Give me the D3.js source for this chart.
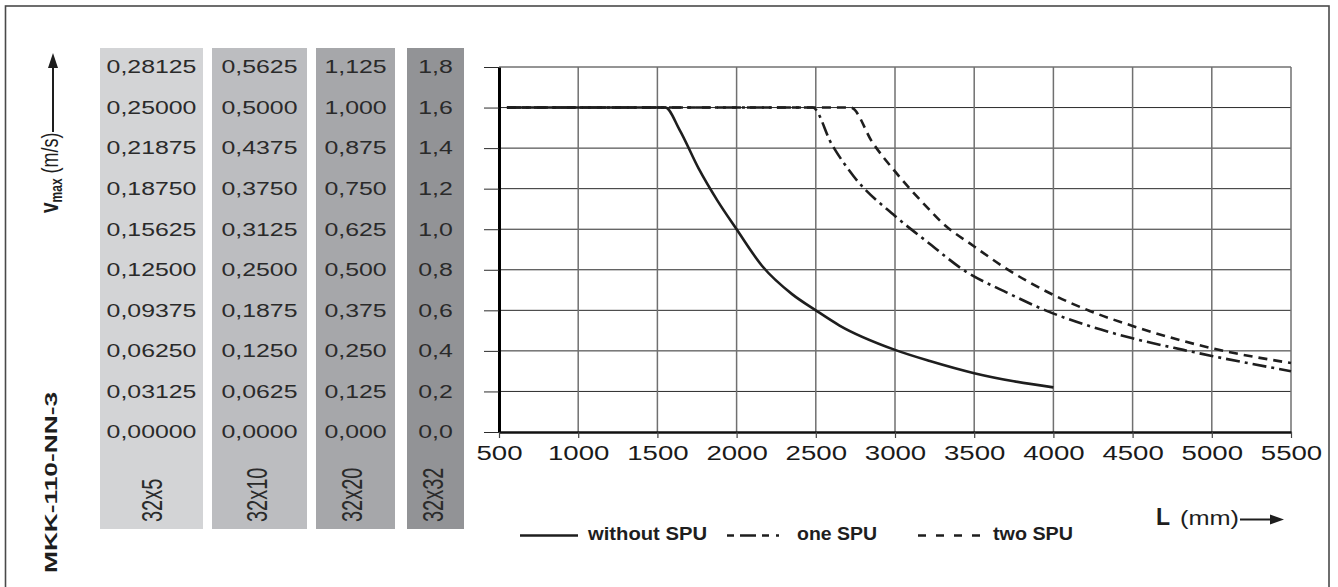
<!DOCTYPE html>
<html><head><meta charset="utf-8">
<script src="https://cdn.jsdelivr.net/npm/d3@7"></script>
<style>html,body{margin:0;padding:0;background:#fff;} svg{display:block;font-family:"Liberation Sans",Arial,Helvetica,sans-serif;}</style>
</head><body><svg id="c" width="1338" height="587"></svg>
<script>
// ---- data ----
const lengthTicks = [500, 1000, 1500, 2000, 2500, 3000, 3500, 4000, 4500, 5000, 5500];
const speedTicks = [0, 0.2, 0.4, 0.6, 0.8, 1.0, 1.2, 1.4, 1.6, 1.8];
const spindleLabels = ["32x5", "32x10", "32x20", "32x32"];
const speedLabels32x5  = ["0,00000","0,03125","0,06250","0,09375","0,12500","0,15625","0,18750","0,21875","0,25000","0,28125"];
const speedLabels32x10 = ["0,0000","0,0625","0,1250","0,1875","0,2500","0,3125","0,3750","0,4375","0,5000","0,5625"];
const speedLabels32x20 = ["0,000","0,125","0,250","0,375","0,500","0,625","0,750","0,875","1,000","1,125"];
const speedLabels32x32 = ["0,0","0,2","0,4","0,6","0,8","1,0","1,2","1,4","1,6","1,8"];
const seriesNames = ["without SPU", "one SPU", "two SPU"];
const withoutSpuL = [550, 1550, 1640, 1760, 1880, 2000, 2160, 2350, 2500, 2650, 3000, 3220, 3500, 3750, 4000];
const withoutSpuV = [1.6, 1.6, 1.49, 1.30, 1.14, 1.0, 0.82, 0.68, 0.60, 0.525, 0.405, 0.35, 0.29, 0.25, 0.22];
const oneSpuL = [550, 2480, 2600, 2740, 3000, 3200, 3450, 3700, 3950, 4300, 4500, 4820, 5000, 5500];
const oneSpuV = [1.6, 1.6, 1.42, 1.26, 1.065, 0.94, 0.79, 0.69, 0.60, 0.505, 0.462, 0.405, 0.375, 0.30];
const twoSpuL = [550, 2720, 2860, 3000, 3200, 3300, 3500, 3700, 4000, 4230, 4500, 5000, 5500];
const twoSpuV = [1.6, 1.6, 1.425, 1.285, 1.11, 1.03, 0.915, 0.807, 0.676, 0.597, 0.523, 0.413, 0.34];

// ---- drawing ----
const svg = d3.select("#c");
const x = d3.scaleLinear().domain([500, 5500]).range([499, 1291]);
const y = d3.scaleLinear().domain([0, 1.8]).range([432, 67]);
const ink = "#1e1e1e";
const SX = 1.38;

// frame
svg.append("rect").attr("x", 5.5).attr("y", 6).attr("width", 1323.5).attr("height", 640)
  .attr("fill", "none").attr("stroke", "#4a4a4a").attr("stroke-width", 1.6);

// gray columns with speed labels
const colBoxes = [
  {x0: 100, x1: 203, fill: "#d3d4d6", rot: 162},
  {x0: 212, x1: 307, fill: "#bcbdc0", rot: 267},
  {x0: 316, x1: 395, fill: "#a6a7aa", rot: 362},
  {x0: 407, x1: 464, fill: "#929396", rot: 443}
];
const colLabels = [speedLabels32x5, speedLabels32x10, speedLabels32x20, speedLabels32x32];
colBoxes.forEach((b, ci) => {
  svg.append("rect").attr("x", b.x0).attr("y", 48).attr("width", b.x1 - b.x0).attr("height", 481).attr("fill", b.fill);
  const cx = (b.x0 + b.x1) / 2;
  svg.append("g").selectAll("text").data(colLabels[ci]).join("text")
    .attr("transform", (d, i) => `translate(${cx},${y(speedTicks[i]) + 6.3}) scale(${SX},1)`)
    .attr("text-anchor", "middle").attr("font-size", 18).attr("fill", "#2a2a2a")
    .text(d => d);
  svg.append("text")
    .attr("transform", `translate(${b.rot},522) scale(1.45,1) rotate(-90)`)
    .attr("font-size", 20).attr("fill", "#2a2a2a").text(spindleLabels[ci]);
});

// grid
svg.append("g").selectAll("line").data(speedTicks.filter(d => d > 0)).join("line")
  .attr("x1", 499).attr("x2", 1291).attr("y1", d => y(d)).attr("y2", d => y(d))
  .attr("stroke", "#2b2b2b").attr("stroke-width", 1);
svg.append("g").selectAll("line").data(lengthTicks.filter(d => d > 500)).join("line")
  .attr("x1", d => x(d)).attr("x2", d => x(d)).attr("y1", 67).attr("y2", 432)
  .attr("stroke", "#707070").attr("stroke-width", 1.5);

// axes
const yAxis = svg.append("g").attr("transform", "translate(499,0)")
  .call(d3.axisLeft(y).tickValues(speedTicks).tickSize(15).tickSizeOuter(0).tickFormat(""));
yAxis.select(".domain").attr("stroke", "#000").attr("stroke-width", 3);
yAxis.selectAll(".tick line").attr("stroke", "#2b2b2b").attr("stroke-width", 1);

const xAxis = svg.append("g").attr("transform", "translate(0,432)")
  .call(d3.axisBottom(x).tickValues(lengthTicks).tickSize(6).tickSizeOuter(0).tickFormat(d3.format("d")));
xAxis.select(".domain").attr("stroke", "#111").attr("stroke-width", 2.5);
xAxis.selectAll(".tick line").attr("stroke", "#444").attr("stroke-width", 1.2);
xAxis.selectAll(".tick text").attr("y", 28).attr("dy", 0).attr("font-size", 20)
  .attr("font-family", "Liberation Sans, Arial, sans-serif").attr("fill", "#1a1a1a")
  .attr("transform", `scale(${SX},1)`);

// curves
const line = d3.line().x(d => x(d[0])).y(d => y(d[1])).curve(d3.curveMonotoneX);
const zip = (a, b) => a.map((v, i) => [v, b[i]]);
const series = [
  {L: twoSpuL, V: twoSpuV, dash: "9,6"},
  {L: oneSpuL, V: oneSpuV, dash: "14,5,3,5"},
  {L: withoutSpuL, V: withoutSpuV, dash: null}
];
series.forEach(s => {
  svg.append("path").datum(zip(s.L, s.V)).attr("d", line)
    .attr("fill", "none").attr("stroke", ink).attr("stroke-width", 2.6)
    .attr("stroke-dasharray", s.dash);
});

// legend
const legend = [
  {x1: 520, x2: 578, dash: null, tx: 588, tl: 119},
  {x1: 727, x2: 785, dash: "7,6,16,6,7,7,3,20", tx: 797, tl: 80},
  {x1: 918, x2: 980, dash: "8,10", tx: 993, tl: 80}
];
legend.forEach((l, i) => {
  svg.append("line").attr("x1", l.x1).attr("x2", l.x2).attr("y1", 535.5).attr("y2", 535.5)
    .attr("stroke", ink).attr("stroke-width", 2.4).attr("stroke-dasharray", l.dash);
  svg.append("text").attr("x", l.tx).attr("y", 540).attr("font-size", 18).attr("font-weight", "bold")
    .attr("fill", "#1e1e1e").attr("textLength", l.tl).attr("lengthAdjust", "spacingAndGlyphs")
    .text(seriesNames[i]);
});

// x-axis title
svg.append("text").attr("x", 1156).attr("y", 525).attr("font-size", 23).attr("font-weight", "bold").attr("fill", "#1e1e1e").text("L");
svg.append("text").attr("x", 1180).attr("y", 525).attr("font-size", 20).attr("fill", "#1e1e1e")
  .attr("textLength", 59).attr("lengthAdjust", "spacingAndGlyphs").text("(mm)");
svg.append("line").attr("x1", 1240).attr("x2", 1272).attr("y1", 519.5).attr("y2", 519.5).attr("stroke", ink).attr("stroke-width", 2);
svg.append("path").attr("d", "M1284,519.5 L1270,514.5 L1270,524.5 Z").attr("fill", ink);

// y-axis title
const yt = svg.append("text").attr("transform", "translate(58,213) scale(1.35,1) rotate(-90)").attr("fill", "#1e1e1e");
yt.append("tspan").attr("font-size", 19).attr("font-weight", "bold").text("v");
yt.append("tspan").attr("font-size", 12).attr("font-weight", "bold").attr("dy", 3).text("max");
yt.append("tspan").attr("font-size", 18).attr("dy", -3).text(" (m/s)");
svg.append("line").attr("x1", 53).attr("x2", 53).attr("y1", 132).attr("y2", 66).attr("stroke", ink).attr("stroke-width", 2);
svg.append("path").attr("d", "M53,53 L48,68 L58,68 Z").attr("fill", ink);

// product label
svg.append("text").attr("transform", "translate(57,573) rotate(-90)")
  .attr("font-size", 17).attr("font-weight", "bold").attr("fill", "#1e1e1e")
  .attr("textLength", 181).attr("lengthAdjust", "spacingAndGlyphs").text("MKK-110-NN-3");
</script></body></html>
